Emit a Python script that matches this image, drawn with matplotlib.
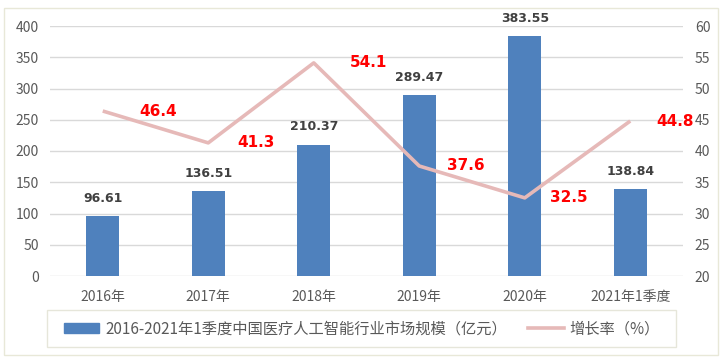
import matplotlib
matplotlib.use("Agg")
import matplotlib.pyplot as plt
from matplotlib.patches import Rectangle
from matplotlib.lines import Line2D
from matplotlib.patches import Patch

plt.rcParams['font.family'] = ['Noto Sans CJK SC', 'DejaVu Sans']

categories = ["2016年", "2017年", "2018年", "2019年", "2020年", "2021年1季度"]
market_size = [96.61, 136.51, 210.37, 289.47, 383.55, 138.84]
growth_rate = [46.4, 41.3, 54.1, 37.6, 32.5, 44.8]
bar_name = "2016-2021年1季度中国医疗人工智能行业市场规模（亿元）"
line_name = "增长率（%）"

# horizontal offsets (points) of the red rate labels, right of each point
rate_label_dx = [26, 21, 26, 20, 18, 19]

W, H = 725, 360
fig = plt.figure(figsize=(W / 100, H / 100), dpi=100)
fig.patch.set_facecolor("white")

# outer frame
fig.patches.append(Rectangle((4 / W, 1 - 355 / H), 714 / W, 347 / H, transform=fig.transFigure,
                             fill=False, edgecolor="#E8E8D8", linewidth=1.0))
# legend frame
fig.patches.append(Rectangle((47 / W, 1 - 347 / H), 629 / W, 37 / H, transform=fig.transFigure,
                             fill=False, edgecolor="#E6E6DA", linewidth=1.0))

ax = fig.add_axes([50 / W, 1 - 276 / H, 633 / W, 250 / H])
ax2 = ax.twinx()

x = list(range(len(categories)))
bar_color = "#4F81BD"
line_color = "#E6B9B8"
tick_color = "#595959"

ax.bar(x, market_size, width=0.31, color=bar_color, zorder=3)
for xi, v in zip(x, market_size):
    ax.annotate(f"{v:.2f}", (xi, v), xytext=(0, 8), textcoords="offset points",
                ha="center", va="bottom", fontsize=9, fontweight="bold", color="#404040",
                family=['DejaVu Sans'])

ax.set_ylim(0, 400)
ax.set_yticks(range(0, 401, 50))
ax.set_xlim(-0.5, len(categories) - 0.5)
ax.set_xticks(x)
ax.set_xticklabels(categories)
ax.grid(axis="y", color="#D9D9D9", linewidth=1.0, zorder=0)
ax.set_axisbelow(True)

ax2.plot(x, growth_rate, color=line_color, linewidth=2.6, zorder=4, solid_capstyle="butt")
ax2.set_ylim(20, 60)
ax2.set_yticks(range(20, 61, 5))
for xi, v, dx in zip(x, growth_rate, rate_label_dx):
    ax2.annotate(f"{v:.1f}", (xi, v), xytext=(dx, 0), textcoords="offset points",
                 ha="left", va="center", fontsize=11, fontweight="bold", color="#FF0000",
                 family=['DejaVu Sans'])

for a in (ax, ax2):
    for s in a.spines.values():
        s.set_visible(False)
    a.tick_params(length=0, colors=tick_color, labelsize=10)
ax.tick_params(axis="y", pad=8)
ax2.tick_params(axis="y", pad=8.5)
ax.tick_params(axis="x", pad=10)

handles = [Patch(facecolor=bar_color, edgecolor=bar_color),
           Line2D([0], [0], color=line_color, linewidth=2.6)]
leg = fig.legend(handles, [bar_name, line_name], loc="center left",
                 bbox_to_anchor=(64 / W, 1 - 329 / H), ncol=2, frameon=False,
                 fontsize=11, handlelength=2.3, handleheight=0.6, columnspacing=1.4,
                 handletextpad=0.4, borderpad=0, borderaxespad=0)
for t in leg.get_texts():
    t.set_color(tick_color)

fig.savefig("out.png", dpi=100)
